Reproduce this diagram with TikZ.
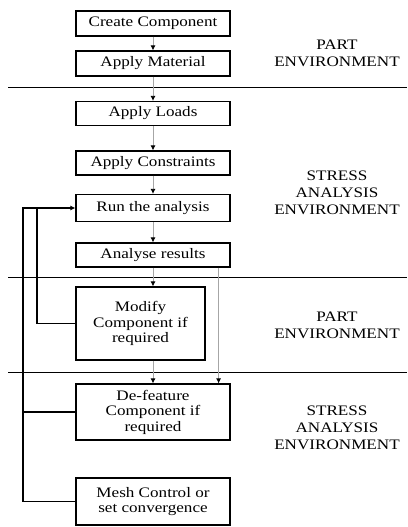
\documentclass[tikz,border=0pt]{standalone}
\usepackage{fontspec}
\setmainfont[FakeStretch=1.18]{Liberation Serif}
\usetikzlibrary{arrows.meta}
\begin{document}
\begin{tikzpicture}[x=1pt,y=-1pt,
  stepbox/.style={rectangle,draw,line width=1.2pt,minimum width=154pt,inner sep=1pt,align=center,font=\fontsize{14.5}{15.5}\selectfont},
  envlabel/.style={align=center,font=\fontsize{14.5}{17}\selectfont},
  flow/.style={draw=gray!70,line width=0.8pt,-{Latex[black,length=5pt,width=5pt]}},
  back/.style={line width=1.2pt},
  sep/.style={line width=1pt}]
\useasboundingbox (0,0) rectangle (407,527);
\node (create) at (153,23.5) [stepbox,minimum height=25pt] {Create Component};
\node (material) at (153,63.5) [stepbox,minimum height=25pt] {Apply Material};
\node (loads) at (153,113.5) [stepbox,minimum height=24pt] {Apply Loads};
\node (constraints) at (153,163) [stepbox,minimum height=24pt] {Apply Constraints};
\node (run) at (153,208) [stepbox,minimum height=27pt] {Run the analysis};
\node (analyse) at (153,255) [stepbox,minimum height=24pt] {Analyse results};
\node (modify) at (140.5,323.5) [stepbox,minimum width=129pt,minimum height=73pt] {Modify\\Component if\\required};
\node (defeature) at (153,412) [stepbox,minimum height=56pt] {De-feature\\Component if\\required};
\node (mesh) at (153,501.5) [stepbox,minimum height=47pt] {Mesh Control or\\set convergence};

\node (part1) at (337,53) [envlabel] {PART\\ENVIRONMENT};
\node (stress1) at (337,193) [envlabel] {STRESS\\ANALYSIS\\ENVIRONMENT};
\node (part2) at (337,325) [envlabel] {PART\\ENVIRONMENT};
\node (stress2) at (337,428) [envlabel] {STRESS\\ANALYSIS\\ENVIRONMENT};

\draw [sep] (8,87) -- (407,87);
\draw [sep] (8,277) -- (407,277);
\draw [sep] (8,372) -- (407,372);

\draw [flow] (create) -- (material);
\draw [flow] (material) -- (loads);
\draw [flow] (loads) -- (constraints);
\draw [flow] (constraints) -- (run);
\draw [flow] (run) -- (analyse);
\draw [flow] (analyse) -- (analyse |- modify.north);
\draw [flow] (defeature |- modify.south) -- (defeature);
\draw [flow] ([xshift=-12pt]analyse.south east) -- ([xshift=-12pt]analyse.south east |- defeature.north);

\coordinate (inner) at (37,208);
\coordinate (outer) at (23,208);
\draw [back] (modify.west) -| (inner);
\draw [back,-{Latex[length=5pt,width=5pt]}] (mesh.west) -| (outer) -- (run.west);
\draw [back] (defeature.west) -- (defeature.west -| outer);
\end{tikzpicture}
\end{document}
